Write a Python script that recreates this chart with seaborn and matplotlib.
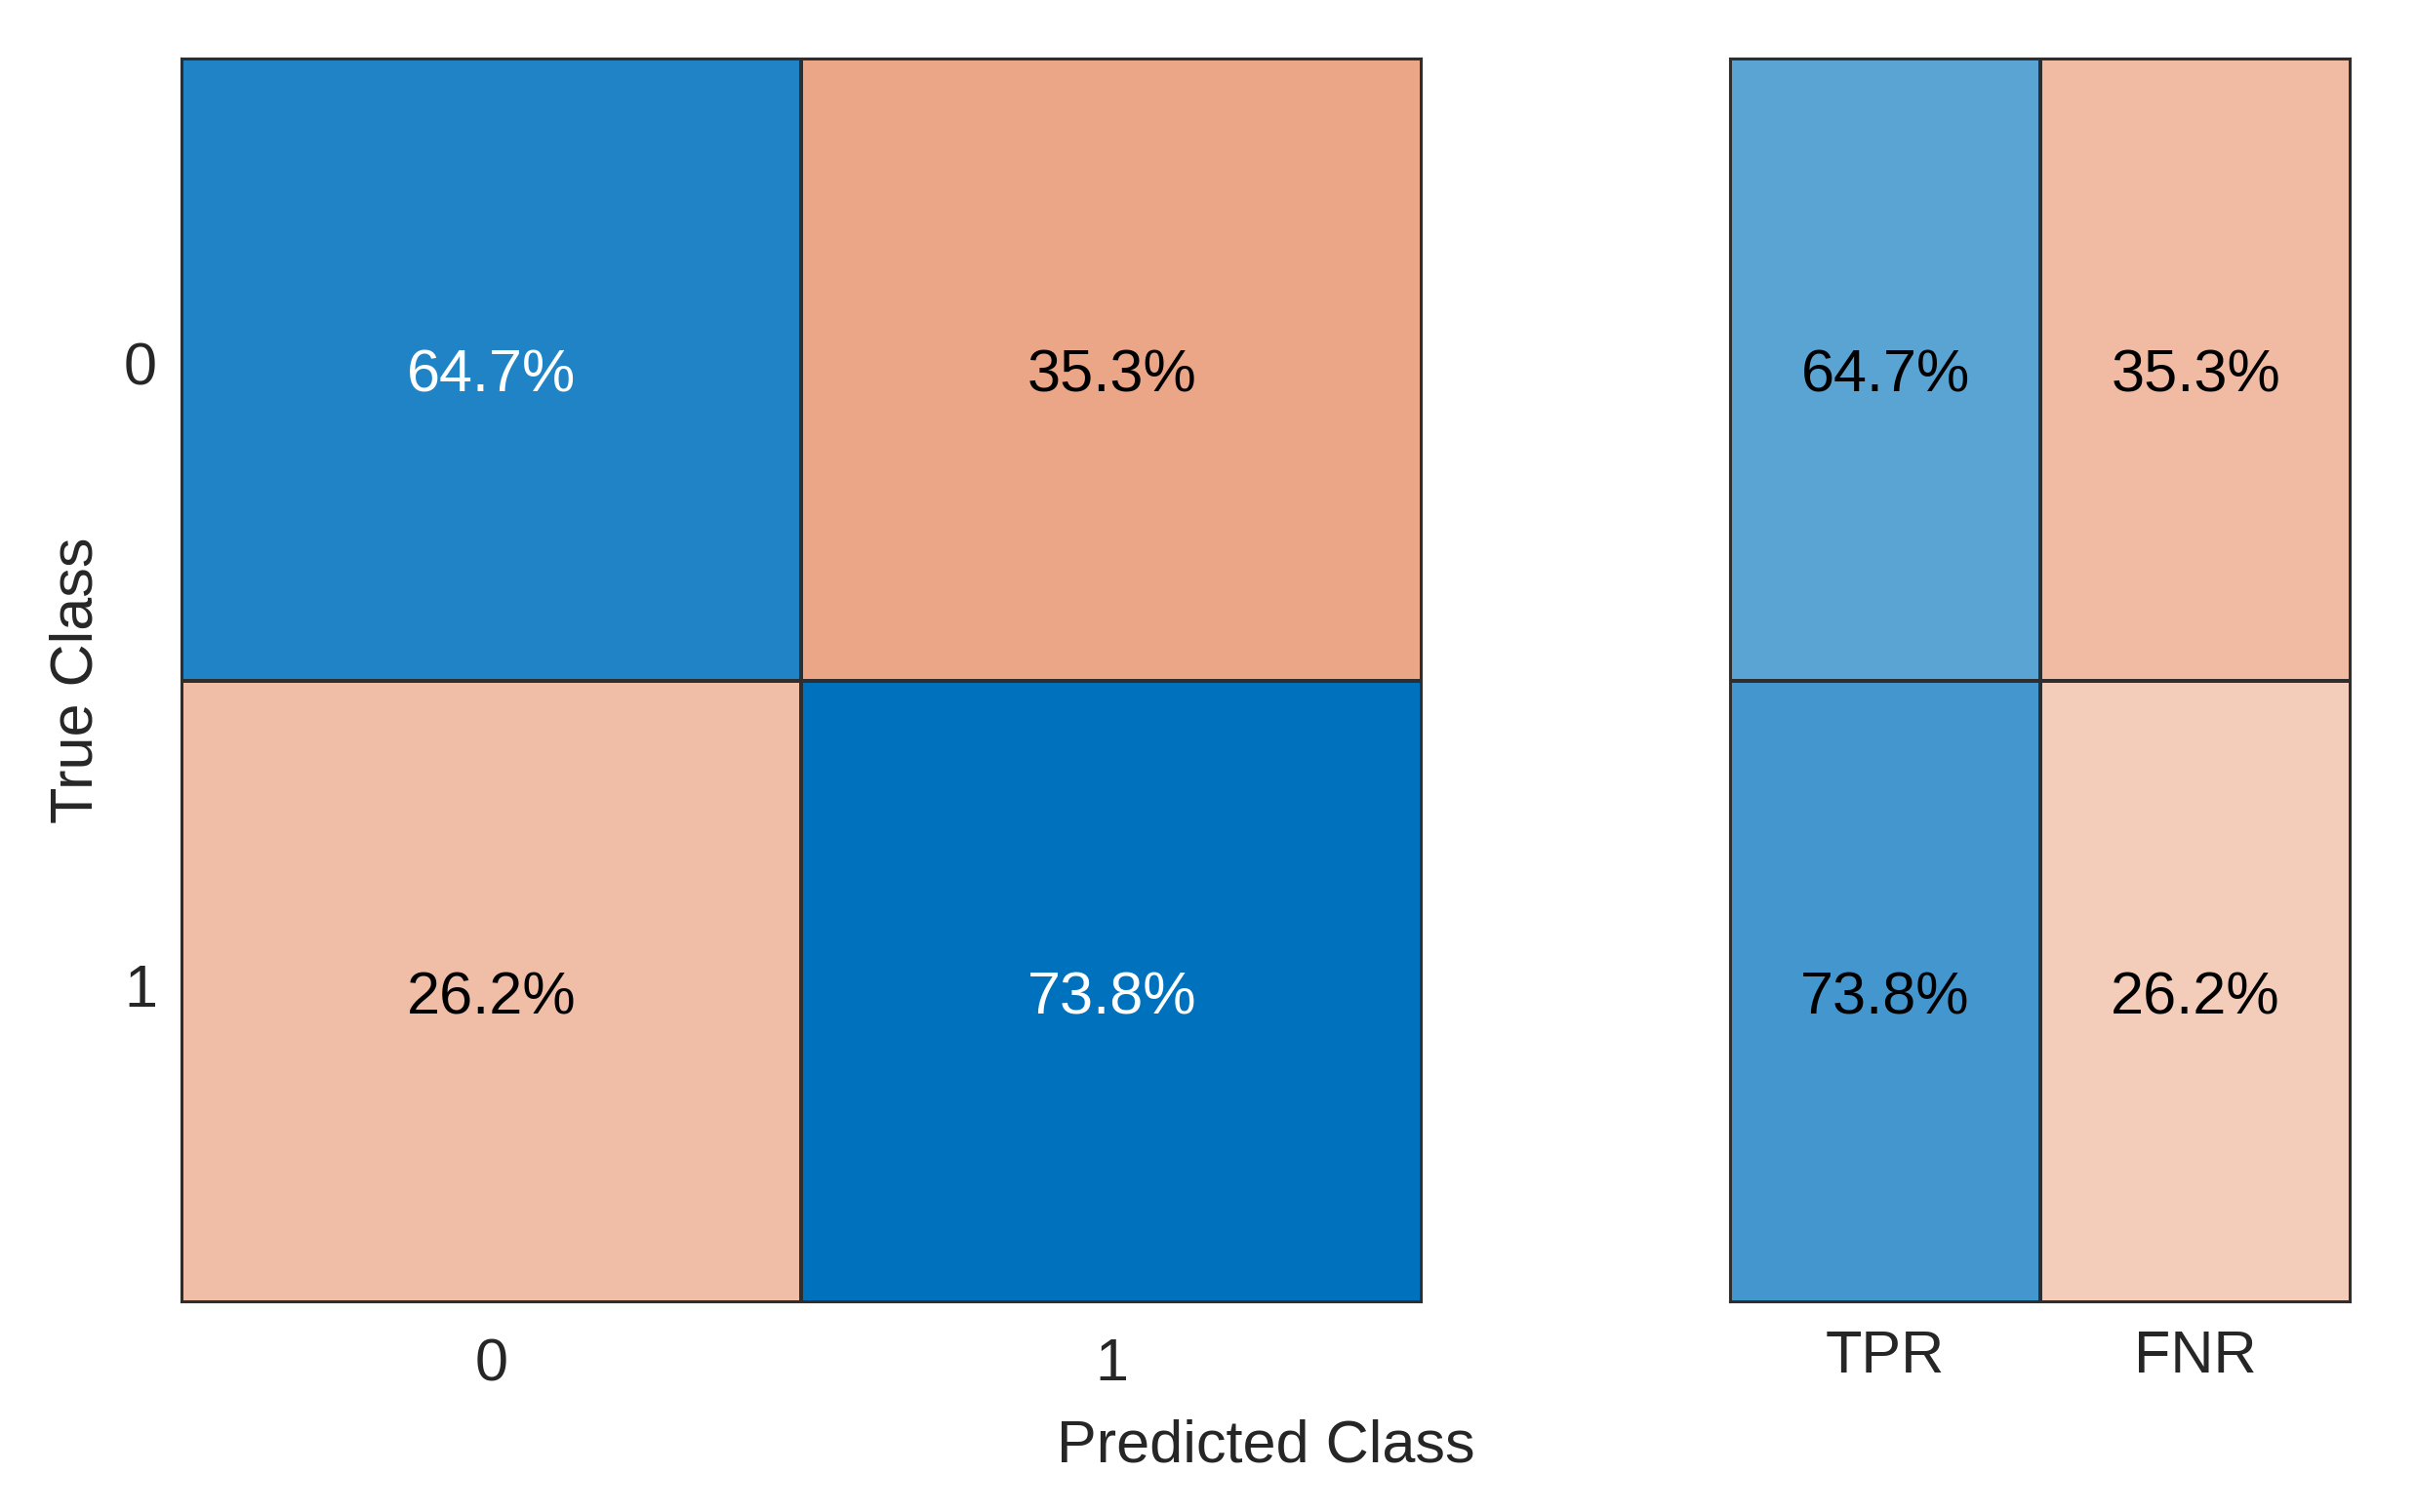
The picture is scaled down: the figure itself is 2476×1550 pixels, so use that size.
import numpy as np
import matplotlib.pyplot as plt
import seaborn as sns
from matplotlib.colors import LinearSegmentedColormap

# Confusion matrix (row-normalised, %)
classes = ['0', '1']
conf_pct = np.array([[64.7, 35.3],
                     [26.2, 73.8]])

# Row summary: true positive / false negative rates (%)
rate_labels = ['TPR', 'FNR']
tpr = [64.7, 73.8]
fnr = [35.3, 26.2]

sns.set_style('white')
plt.rcParams['font.family'] = ['Liberation Sans', 'DejaVu Sans']

blue = LinearSegmentedColormap.from_list('blue', ['#ffffff', '#0072BD'])
salmon = LinearSegmentedColormap.from_list('salmon', ['#ffffff', '#D95319'])

fig = plt.figure(figsize=(24.76, 15.5), dpi=100)
ax = fig.add_axes([0.0751, 0.1387, 0.5133, 0.8226])
ax_r = fig.add_axes([0.7161, 0.1387, 0.2569, 0.8226])

fs = 44
line_kw = dict(linewidths=1.5, linecolor='#2e2e2e', cbar=False)

# --- main confusion matrix ---
annot_main = np.array([[f"{v:.1f}%" for v in row] for row in conf_pct])
diag = np.eye(2, dtype=bool)
sns.heatmap(conf_pct, mask=~diag, cmap=blue, vmin=0, vmax=73.8,
            annot=annot_main, fmt='', annot_kws={'fontsize': fs, 'color': 'white'},
            ax=ax, **line_kw)
sns.heatmap(conf_pct, mask=diag, cmap=salmon, vmin=0, vmax=68,
            annot=annot_main, fmt='', annot_kws={'fontsize': fs, 'color': 'black'},
            ax=ax, **line_kw)
ax.set_xticklabels(classes, fontsize=fs, color='#262626')
ax.set_yticklabels(classes, fontsize=fs, color='#262626', rotation=0)
ax.tick_params(axis='x', length=0, pad=26)
ax.tick_params(axis='y', length=0, pad=18)
ax.set_xlabel('')
ax.set_ylabel('True Class', fontsize=fs, color='#262626', labelpad=14)

# --- row summary (TPR / FNR) ---
rates = np.column_stack([tpr, fnr])
annot_r = np.array([[f"{v:.1f}%" for v in row] for row in rates])
col_mask = np.zeros_like(rates, dtype=bool)
col_mask[:, 0] = True
sns.heatmap(rates, mask=~col_mask, cmap=blue, vmin=0, vmax=100,
            annot=annot_r, fmt='', annot_kws={'fontsize': fs, 'color': 'black'},
            ax=ax_r, **line_kw)
sns.heatmap(rates, mask=col_mask, cmap=salmon, vmin=0, vmax=88,
            annot=annot_r, fmt='', annot_kws={'fontsize': fs, 'color': 'black'},
            ax=ax_r, **line_kw)
ax_r.set_xticklabels(rate_labels, fontsize=fs, color='#262626')
ax_r.set_yticks([])
ax_r.tick_params(length=0, pad=20)

for a in (ax, ax_r):
    for s in a.spines.values():
        s.set_visible(True)
        s.set_color('#2e2e2e')
        s.set_linewidth(1.5)
    # nudge the cell labels slightly down, as in the original
    for t in a.texts:
        x, y = t.get_position()
        t.set_position((x, y + 0.012))

fig.text(0.524, 0.043, 'Predicted Class', fontsize=fs, color='#262626',
         ha='center', va='center')

fig.savefig('out.png', dpi=100)
